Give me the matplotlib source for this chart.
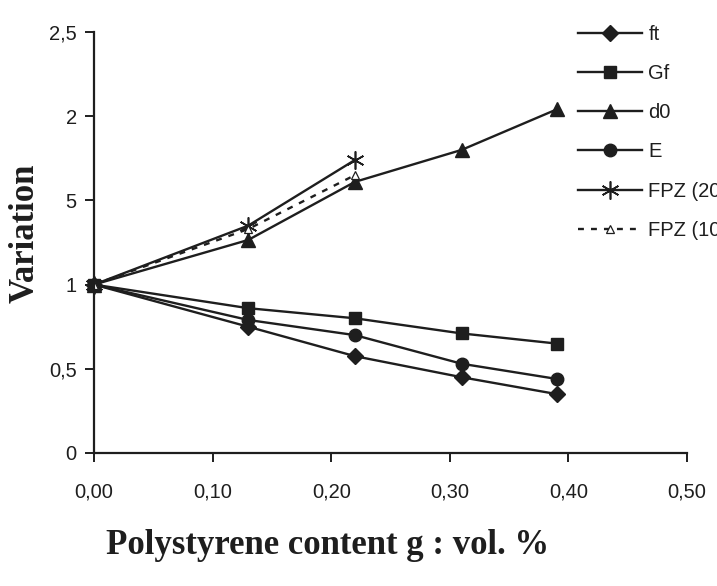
import matplotlib
matplotlib.use("Agg")
import matplotlib.pyplot as plt

# polystyrene content (vol. fraction)
x = [0.0, 0.13, 0.22, 0.31, 0.39]
x_fpz = [0.0, 0.13, 0.22]

ft = [1.0, 0.75, 0.575, 0.45, 0.35]
Gf = [1.0, 0.86, 0.80, 0.71, 0.65]
d0 = [1.0, 1.265, 1.61, 1.80, 2.04]
E = [1.0, 0.79, 0.70, 0.53, 0.44]
fpz20 = [1.0, 1.35, 1.74]
fpz10 = [1.0, 1.33, 1.65]

xticks = [0.0, 0.1, 0.2, 0.3, 0.4, 0.5]
xticklabels = ["0,00", "0,10", "0,20", "0,30", "0,40", "0,50"]
yticks = [0, 0.5, 1, 1.5, 2, 2.5]
yticklabels = ["0", "0,5", "1", "5", "2", "2,5"]

ink = "#1e1e1e"
plt.rcParams["font.family"] = ["Liberation Sans", "DejaVu Sans"]

fig = plt.figure(figsize=(7.17, 5.86), dpi=100)
ax = fig.add_axes([94 / 717, 1 - 453 / 586, 593 / 717, 421 / 586])

kw = dict(color=ink, lw=1.7, markeredgecolor=ink, markerfacecolor=ink, clip_on=False)
ax.plot(x, ft, marker="D", ms=8, label="ft", **kw)
ax.plot(x, Gf, marker="s", ms=9, label="Gf", **kw)
ax.plot(x, d0, marker="^", ms=10, label="d0", **kw)
ax.plot(x, E, marker="o", ms=9, label="E", **kw)
ax.plot(x_fpz, fpz20, marker=(6, 2, 0), ms=13, mew=1.2, label="FPZ (20 mm)", **kw)
ax.plot(x_fpz, fpz10, color=ink, lw=1.7, ls=(0, (2.5, 3)), marker="^", ms=6,
        markerfacecolor="white", markeredgecolor=ink, mew=0.9, label="FPZ (10 mm)")

ax.set_xlim(0, 0.5)
ax.set_ylim(0, 2.5)
ax.set_xticks(xticks)
ax.set_xticklabels(xticklabels)
ax.set_yticks(yticks)
ax.set_yticklabels(yticklabels)
ax.spines["top"].set_visible(False)
ax.spines["right"].set_visible(False)
for s in ("left", "bottom"):
    ax.spines[s].set_color(ink)
    ax.spines[s].set_linewidth(1.6)
ax.tick_params(axis="x", direction="out", length=6.5, width=1.4, pad=15,
               labelsize=14.5, colors=ink)
ax.tick_params(axis="y", direction="out", length=6.5, width=1.4, pad=6,
               labelsize=14.5, colors=ink)

fig.text(25 / 717, 1 - 233 / 586, "Variation", rotation=90, ha="center", va="center",
         fontsize=25, fontweight="bold", family="Liberation Serif", color=ink)
fig.text(328 / 717, 1 - 545 / 586, "Polystyrene content g : vol. %", ha="center",
         va="center", fontsize=25, fontweight="bold", family="Liberation Serif", color=ink)

fig.legend(loc="upper left", bbox_to_anchor=(578 / 717, 1 - 25 / 586), frameon=False,
           fontsize=14.5, handlelength=3.2, handletextpad=0.3, labelspacing=1.0,
           borderpad=0, borderaxespad=0, labelcolor=ink)

fig.savefig("out.png", dpi=100)
